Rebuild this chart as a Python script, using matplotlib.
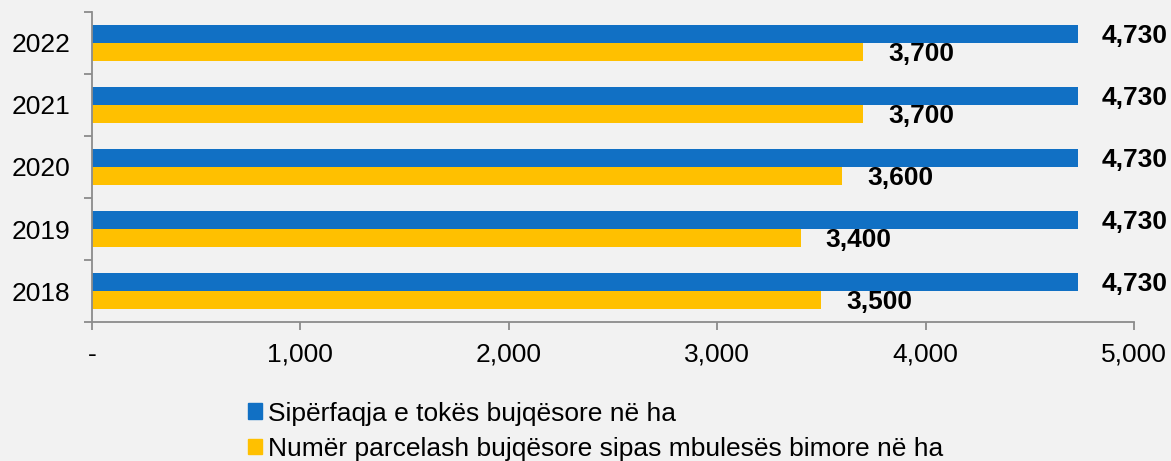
import matplotlib
matplotlib.use("Agg")
import matplotlib.pyplot as plt
from matplotlib.patches import Patch
from matplotlib.ticker import FuncFormatter
import numpy as np

plt.rcParams['font.family'] = ['Liberation Sans', 'DejaVu Sans']

years = ["2018", "2019", "2020", "2021", "2022"]
siperfaqja = [4730, 4730, 4730, 4730, 4730]
parcela = [3500, 3400, 3600, 3700, 3700]
labels = ["Sipërfaqja e tokës bujqësore në ha",
          "Numër parcelash bujqësore sipas mbulesës bimore në ha"]
xticks = [0, 1000, 2000, 3000, 4000, 5000]

blue = "#1170c4"
yellow = "#ffc000"
bg = "#f2f2f2"
axc = "#8c8c8c"
fs = 19

fig = plt.figure(figsize=(11.71, 4.61), dpi=100, facecolor=bg)
ax = fig.add_axes([0.0786, 0.3015, 0.8898, 0.6725], facecolor=bg)

y = np.arange(len(years))
h = 0.285
ax.barh(y + h / 2, siperfaqja, height=h, color=blue)
ax.barh(y - h / 2, parcela, height=h, color=yellow)

for yi, v in zip(y, siperfaqja):
    ax.annotate(f"{v:,}", (v, yi + h / 2), xytext=(17, -1), textcoords="offset points",
                ha="left", va="center", fontsize=fs, fontweight="bold")
for yi, v in zip(y, parcela):
    ax.annotate(f"{v:,}", (v, yi - h / 2), xytext=(18, -1.5), textcoords="offset points",
                ha="left", va="center", fontsize=fs, fontweight="bold")

ax.set_xlim(0, 5000)
ax.set_ylim(-0.5, len(years) - 0.5)
ax.set_xticks(xticks)
ax.xaxis.set_major_formatter(FuncFormatter(lambda v, p: "-" if v == 0 else f"{int(v):,}"))
ax.set_yticks(np.arange(-0.5, len(years), 1.0))
ax.set_yticklabels([])
ax.set_yticks(y, minor=True)
ax.set_yticklabels(years, minor=True)
ax.tick_params(axis="y", which="minor", length=0, pad=15.8, labelsize=fs)
ax.tick_params(axis="y", which="major", length=6, color=axc, width=1.3)
ax.tick_params(axis="x", length=6, color=axc, width=1.3, labelsize=fs, pad=9)
for s in ["top", "right"]:
    ax.spines[s].set_visible(False)
for s in ["left", "bottom"]:
    ax.spines[s].set_color(axc)
    ax.spines[s].set_linewidth(1.3)

handles = [Patch(color=blue), Patch(color=yellow)]
fig.legend(handles, labels, loc="upper left", bbox_to_anchor=(0.212, 0.129),
           frameon=False, fontsize=fs, handlelength=0.53, handleheight=0.53,
           handletextpad=0.22, labelspacing=0.43, borderaxespad=0, borderpad=0)

fig.savefig("out.png", dpi=100, facecolor=bg)
